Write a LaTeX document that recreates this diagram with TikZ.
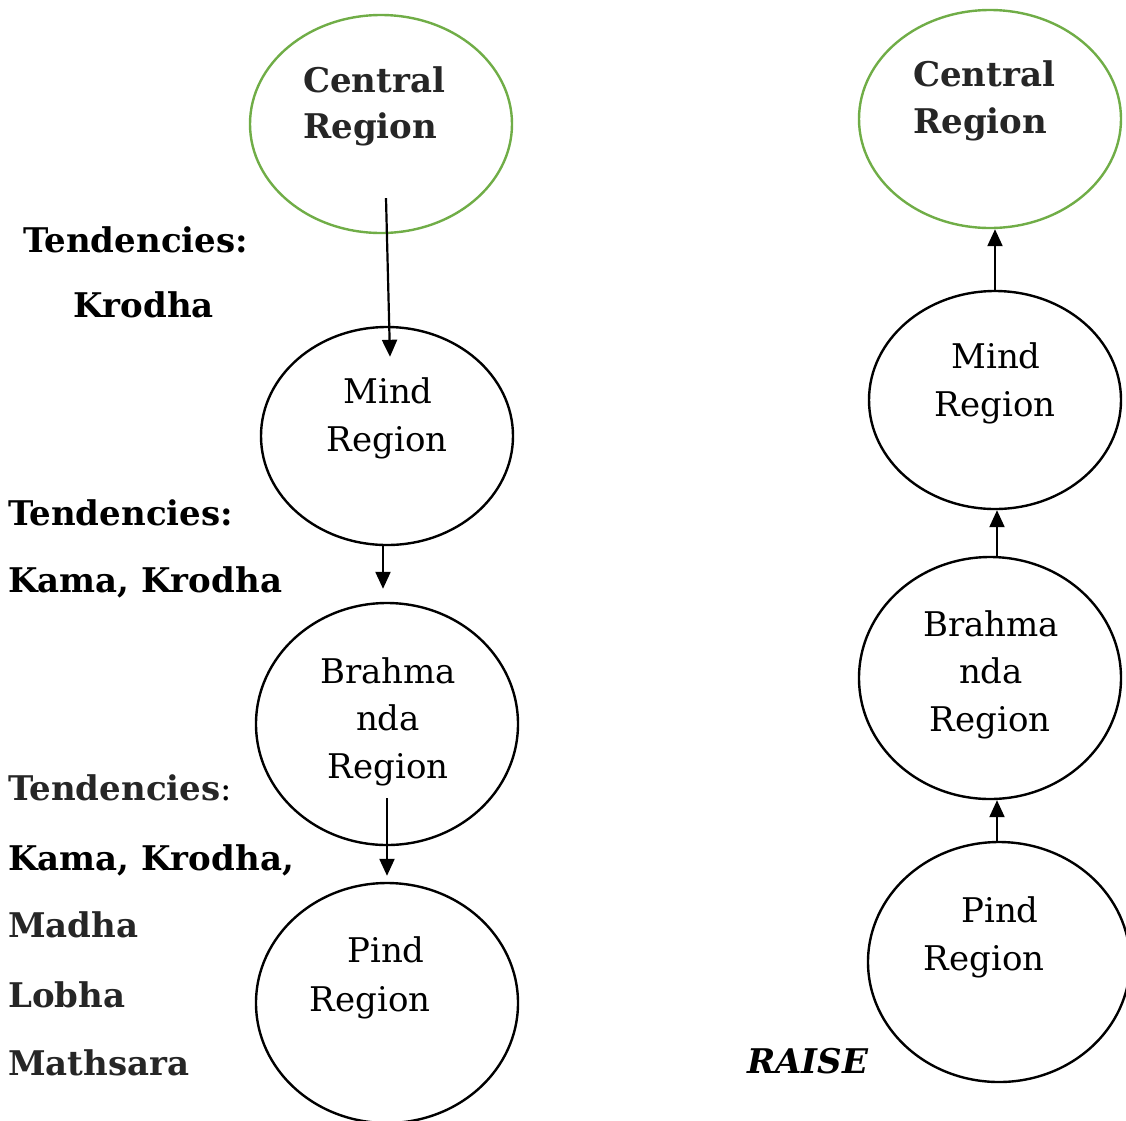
\documentclass[tikz,border=0pt]{standalone}
\usepackage{fontspec}
\setmainfont{DejaVu Serif}
\usetikzlibrary{shapes.geometric,arrows.meta,calc}
\definecolor{grn}{HTML}{70AD47}
\definecolor{dk}{HTML}{262626}
\begin{document}
\begin{tikzpicture}[x=1pt,y=-1pt,
  reg/.style={ellipse,draw,line width=2.4pt,inner sep=0pt},
  cen/.style={reg,draw=grn},
  arr/.style={line width=2.2pt,-{Triangle[length=17pt,width=15pt]}},
  lab/.style={inner sep=0pt,font=\fontsize{34}{40}\selectfont},
  blab/.style={lab,font=\fontsize{34}{40}\selectfont\bfseries},
]
\useasboundingbox (0,0) rectangle (1126,1120);
\clip (0,0) rectangle (1126,1120);
% left column ellipses
\node[cen,minimum width=262pt,minimum height=218pt] (cL) at (381,124) {};
\node[reg,minimum width=252pt,minimum height=218pt] (mL) at (387,436) {};
\node[reg,minimum width=262pt,minimum height=242pt] (bL) at (387,724) {};
\node[reg,minimum width=262pt,minimum height=240pt] (pL) at (387,1003) {};
% right column ellipses
\node[cen,minimum width=262pt,minimum height=218pt] (cR) at (990,119) {};
\node[reg,minimum width=252pt,minimum height=218pt] (mR) at (995,400) {};
\node[reg,minimum width=262pt,minimum height=242pt] (bR) at (990,678) {};
\node[reg,minimum width=262pt,minimum height=240pt] (pR) at (999,962) {};
% texts in left ellipses
\node[blab,text=dk,anchor=base west] (tcL1) at (303,92) {Central};
\node[blab,text=dk,anchor=base west] (tcL2) at (303,138) {Region};
\node[lab,anchor=base] (tmL1) at (388,403) {Mind};
\node[lab,anchor=base] (tmL2) at (387,451) {Region};
\node[lab,anchor=base] (tbL1) at (388,683) {Brahma};
\node[lab,anchor=base] (tbL2) at (388,730) {nda};
\node[lab,anchor=base] (tbL3) at (388,778) {Region};
\node[lab,anchor=base] (tpL1) at (386,962) {Pind};
\node[lab,anchor=base] (tpL2) at (370,1011) {Region};
% texts in right ellipses
\node[blab,text=dk,anchor=base west] (tcR1) at (913,86) {Central};
\node[blab,text=dk,anchor=base west] (tcR2) at (913,133) {Region};
\node[lab,anchor=base] (tmR1) at (996,368) {Mind};
\node[lab,anchor=base] (tmR2) at (995,416) {Region};
\node[lab,anchor=base] (tbR1) at (991,636) {Brahma};
\node[lab,anchor=base] (tbR2) at (991,683) {nda};
\node[lab,anchor=base] (tbR3) at (990,731) {Region};
\node[lab,anchor=base] (tpR1) at (1000,922) {Pind};
\node[lab,anchor=base] (tpR2) at (984,970) {Region};
% side labels
\node[blab,anchor=base west] (t1) at (23,252) {Tendencies:};
\node[blab,anchor=base west] (k1) at (73,317) {Krodha};
\node[blab,anchor=base west] (t2) at (8,525) {Tendencies:};
\node[blab,anchor=base west] (k2) at (8,592) {Kama, Krodha};
\node[lab,anchor=base west] (t3) at (8,800) {\textbf{\color{dk}Tendencies}:};
\node[blab,anchor=base west] (k3) at (8,870) {Kama, Krodha,};
\node[blab,text=dk,anchor=base west] (k4) at (8,937) {Madha};
\node[blab,text=dk,anchor=base west] (k5) at (8,1007) {Lobha};
\node[blab,text=dk,anchor=base west] (k6) at (8,1075) {Mathsara};
\node[blab,anchor=base west,font=\fontsize{34}{40}\selectfont\bfseries\itshape] (raise) at (747,1073) {RAISE};
% arrows left
\draw[arr] ($(cL.south)+(5,-36)$) -- ($(mL.north)+(3,31)$);
\draw[arr] ($(mL.south)+(-4,0)$) -- ($(bL.north)+(-4,-13)$);
\draw[arr] ($(bL.south)+(0,-48)$) -- ($(pL.north)+(0,-6)$);
% arrows right
\coordinate (bRtop) at ($(bR.north)+(7,0)$);
\coordinate (pRtop) at ($(pR.north)+(-2,0)$);
\draw[arr] (mR.north) -- (mR.north |- cR.south);
\draw[arr] (bRtop) -- (bRtop |- mR.south);
\draw[arr] (pRtop) -- (pRtop |- bR.south);
\end{tikzpicture}
\end{document}
